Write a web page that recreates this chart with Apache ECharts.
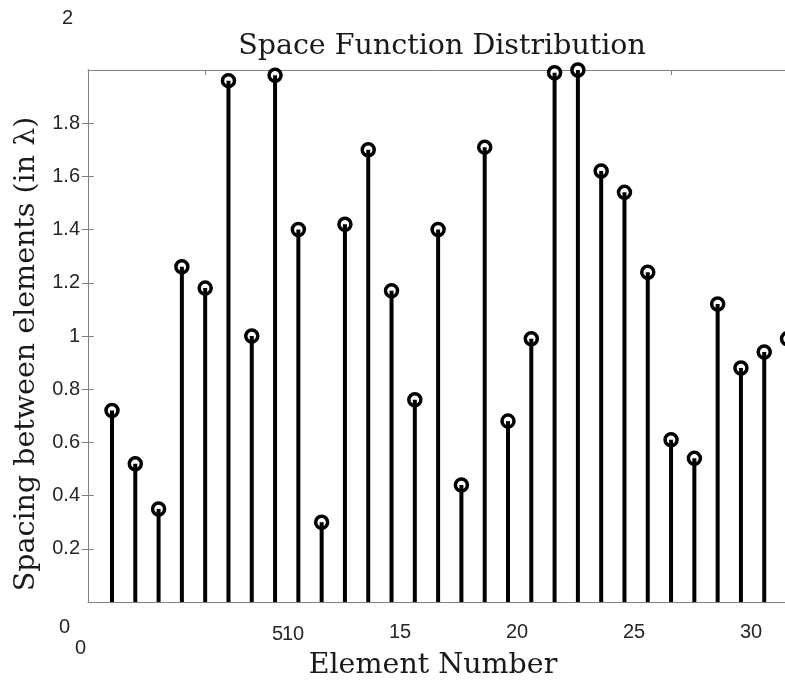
<!DOCTYPE html>
<html>
<head>
<meta charset="utf-8">
<script src="https://cdn.jsdelivr.net/npm/echarts@6/dist/echarts.min.js"></script>
<style>html,body{margin:0;padding:0;background:#fff;}#c{width:785px;height:682px;}</style>
</head>
<body>
<div id="c"></div>
<script>
var elements = [1,2,3,4,5,6,7,8,9,10,11,12,13,14,15,16,17,18,19,20,21,22,23,24,25,26,27,28,29,30];
var spacing = [0.72,0.52,0.35,1.26,1.18,1.96,1.00,1.98,1.40,0.30,1.42,1.70,1.17,0.76,1.40,0.44,1.71,0.68,0.99,1.99,2.00,1.62,1.54,1.24,0.61,0.54,1.12,0.88,0.94,0.99];
var yTickValues = [0.2,0.4,0.6,0.8,1.0,1.2,1.4,1.6,1.8];
var xTickValues = [15,20,25,30];
var topTickValues = [5,25];
var strayLabels = ['2','0','0','5','10'];
var titleText = 'Space Function Distribution';
var xTitle = 'Element Number';
var yTitle = 'Spacing between elements (in \u03bb)';

var pts = elements.map(function(e,i){ return [e, spacing[i]]; });
var lineCol = '#808080';
var txtCol = '#262626';
var serif = '"DejaVu Serif", serif';
var sans = '"Liberation Sans", Arial, sans-serif';
var labFont = '20px "Liberation Sans", Arial, sans-serif';

var chart = echarts.init(document.getElementById('c'), null, {renderer:'canvas'});
chart.setOption({
  animation: false,
  backgroundColor: '#ffffff',
  title: {
    text: titleText, left: 437, top: 27, textAlign: 'center',
    textStyle: {fontFamily: serif, fontWeight: 'normal', fontSize: 28.5, color: '#1a1a1a'}
  },
  grid: {left: 88, right: -3, top: 70, bottom: 80, containLabel: false, outerBoundsMode: 'none'},
  xAxis: [
    {type:'value', min:-0.03, max:30.02, position:'bottom',
     axisLine:{show:true, lineStyle:{color:lineCol, width:1}},
     axisTick:{show:false}, axisLabel:{show:false}, splitLine:{show:false}},
    {type:'value', min:1.667, max:31.58, position:'bottom',
     axisLine:{show:false}, axisTick:{show:false}, splitLine:{show:false},
     axisLabel:{show:true, customValues:xTickValues, margin:20, fontFamily:sans, fontSize:20, color:txtCol},
     name:xTitle, nameLocation:'middle', nameGap:49,
     nameTextStyle:{fontFamily:serif, fontSize:28.5, color:'#1a1a1a', padding:[0,10,0,0]}},
    {type:'value', min:-0.03, max:30.02, position:'top',
     axisLine:{show:true, lineStyle:{color:lineCol, width:1}},
     axisTick:{show:true, inside:true, length:5, customValues:topTickValues, lineStyle:{color:lineCol}},
     axisLabel:{show:false}, splitLine:{show:false}}
  ],
  yAxis: [
    {type:'value', min:0, max:2, position:'left',
     axisLine:{show:true, lineStyle:{color:lineCol, width:1}},
     axisTick:{show:true, inside:true, length:5, customValues:yTickValues, lineStyle:{color:lineCol}},
     axisLabel:{show:true, customValues:yTickValues, margin:8, fontFamily:sans, fontSize:20, color:txtCol,
       formatter:function(v){ return String(Math.round(v*10)/10); }},
     splitLine:{show:false},
     name:yTitle, nameLocation:'middle', nameGap:42,
     nameTextStyle:{fontFamily:serif, fontSize:28.5, color:'#1a1a1a', padding:[0,36,0,0]}},
    {type:'value', min:0, max:2, position:'right',
     axisLine:{show:true, lineStyle:{color:lineCol, width:1}},
     axisTick:{show:true, inside:true, length:7, customValues:yTickValues, lineStyle:{color:lineCol}},
     axisLabel:{show:false}, splitLine:{show:false}}
  ],
  graphic: [
    {type:'text', left:62, top:8, style:{text:strayLabels[0], font:labFont, fill:txtCol}},
    {type:'text', left:59, top:617, style:{text:strayLabels[1], font:labFont, fill:txtCol}},
    {type:'text', left:75, top:638, style:{text:strayLabels[2], font:labFont, fill:txtCol}},
    {type:'text', left:272, top:624, style:{text:strayLabels[3], font:labFont, fill:txtCol}},
    {type:'text', left:282, top:624, style:{text:strayLabels[4], font:labFont, fill:txtCol}}
  ],
  series: [
    {type:'scatter', xAxisIndex:0, yAxisIndex:0, data:pts, symbol:'circle', symbolSize:12, z:2, clip:false,
     itemStyle:{color:'#ffffff', borderColor:'#000000', borderWidth:3.5, opacity:1}},
    {type:'bar', xAxisIndex:0, yAxisIndex:0, data:pts, barWidth:4, z:3,
     itemStyle:{color:'#000000'}}
  ]
});
</script>
</body>
</html>
